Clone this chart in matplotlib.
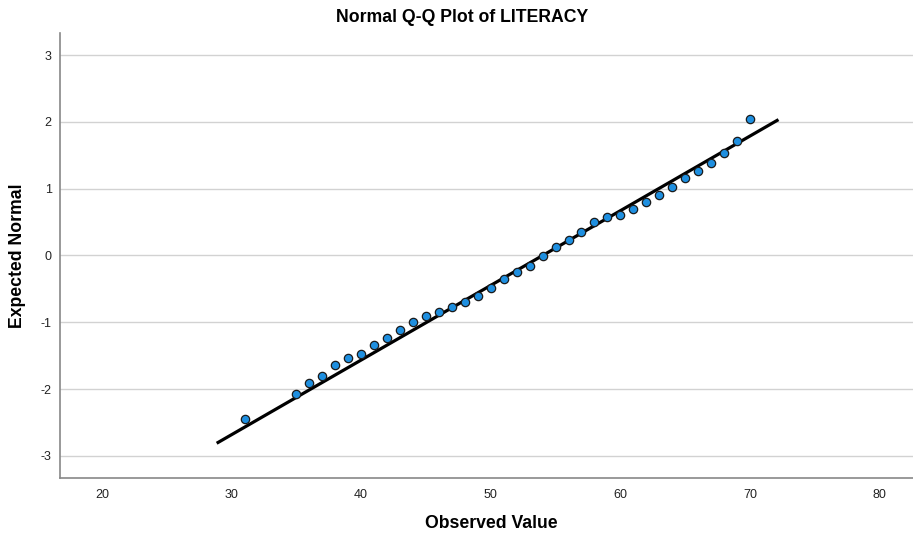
import numpy as np
import matplotlib.pyplot as plt
import matplotlib
matplotlib.rc('font', **{"family": "Liberation Sans", "size": 9})
matplotlib.rcParams['axes.unicode_minus'] = False

# observed literacy values and their expected normal scores
observed = [31, 35, 36, 37, 38, 39, 40, 41, 42, 43, 44, 45, 46, 47, 48, 49,
            50, 51, 52, 53, 54, 55, 56, 57, 58, 59, 60, 61, 62, 63, 64, 65,
            66, 67, 68, 69, 70]
expected = [-2.44, -2.07, -1.91, -1.80, -1.64, -1.54, -1.47, -1.34, -1.24,
            -1.12, -0.99, -0.90, -0.85, -0.77, -0.69, -0.60, -0.49, -0.35,
            -0.24, -0.16, -0.01, 0.12, 0.23, 0.35, 0.50, 0.57, 0.61, 0.69,
            0.80, 0.90, 1.02, 1.16, 1.27, 1.39, 1.53, 1.71, 2.04]

# reference line: y = (x - mean) / sd
mean = 54.0
sd = 8.95
line_x = [28.85, 72.2]

fig = plt.figure(figsize=(9.13, 5.38), dpi=100)
ax = fig.add_axes([60/913, 1 - 478/538, 1 - 60/913, (478 - 33)/538])

lx = np.array(line_x)
ax.plot(lx, (lx - mean) / sd, color='black', lw=2.3, zorder=2,
        solid_capstyle='butt')
ax.plot(observed, expected, 'o', ms=6, mfc='#1e8fe0', mec='#1a1a1a',
        mew=0.9, zorder=3)

ax.set_xlim(16.76, 82.58)
ax.set_ylim(-3.33, 3.33)
ax.set_xticks([20, 30, 40, 50, 60, 70, 80])
ax.set_yticks([-3, -2, -1, 0, 1, 2, 3])
ax.yaxis.grid(True, color='#d2d2d2', lw=1)
ax.set_axisbelow(True)
ax.tick_params(length=0, colors='#222222')
ax.tick_params(axis='y', pad=6)
ax.tick_params(axis='x', pad=8)

for side in ['top', 'right']:
    ax.spines[side].set_visible(False)
for side in ['left', 'bottom']:
    ax.spines[side].set_color('#888888')
    ax.spines[side].set_linewidth(1.2)

# axis titles and chart title placed in figure pixels
fig.text(491/913, 1 - 523/538, "Observed Value", ha='center', va='center',
         fontsize=12.7, fontweight='bold')
fig.text(18/913, 1 - 256/538, "Expected Normal", ha='center', va='center',
         rotation=90, fontsize=12.7, fontweight='bold')
fig.text(462/913, 1 - 18/538, "Normal Q-Q Plot of LITERACY", ha='center',
         va='center', fontsize=12.7, fontweight='bold')

fig.savefig("out.png", dpi=100)
